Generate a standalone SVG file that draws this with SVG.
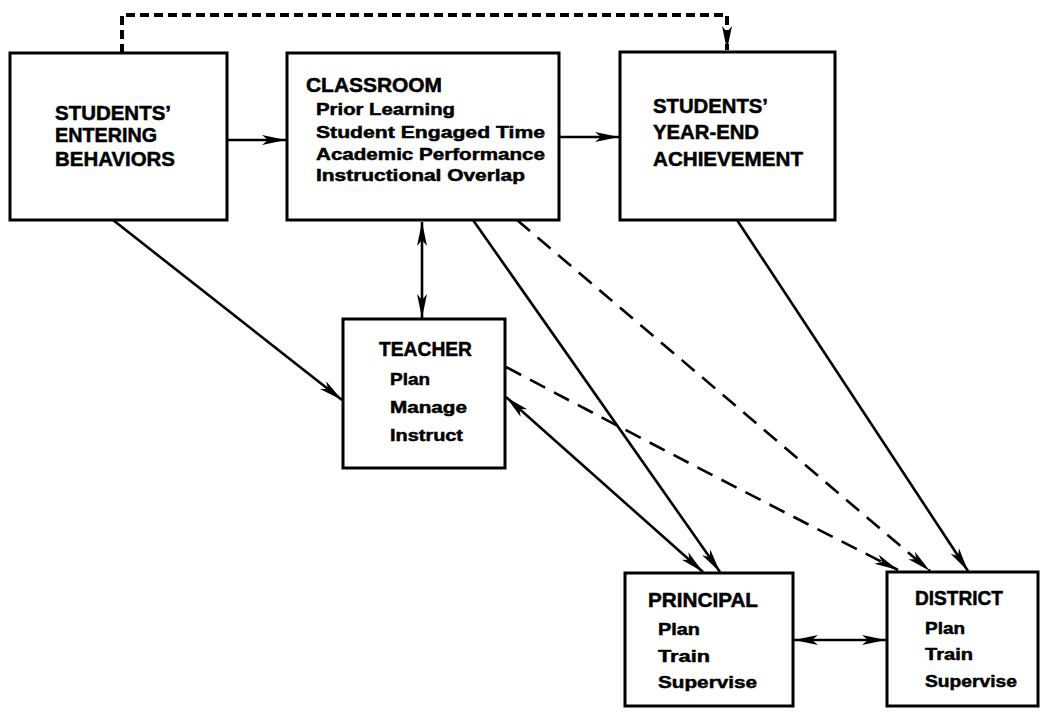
<svg xmlns="http://www.w3.org/2000/svg" width="1043" height="712" viewBox="0 0 1043 712">
<style>
.box{fill:#fff;stroke:#000;stroke-width:3}
.t{font-family:"Liberation Sans",Arial,sans-serif;font-weight:bold;fill:#000;stroke:#000;stroke-width:0.5}
.h{font-size:20px}
.s{font-size:17px}
.c{fill:none;stroke:#000;stroke-width:2.6}
.d{stroke-dasharray:17 10}
.dot{stroke-dasharray:9 5;stroke-width:4}
</style>
<defs>
<marker id="ah" viewBox="0 0 24 12" refX="24" refY="6" markerWidth="24" markerHeight="12" markerUnits="userSpaceOnUse" orient="auto-start-reverse">
<path d="M0,1 L24,6 L0,11 L6,6 z" fill="#000"/>
</marker>
</defs>
<rect width="1043" height="712" fill="#fff"/>
<g id="connectors">
<path class="c dot" d="M122,53 V15 H727 V50" marker-end="url(#ah)"/>
<path class="c" d="M227,140 H286" marker-end="url(#ah)"/>
<path class="c" d="M559,137 H619" marker-end="url(#ah)"/>
<path class="c" d="M113,220 L342,400" marker-end="url(#ah)"/>
<path class="c" d="M422,222 V318" marker-start="url(#ah)" marker-end="url(#ah)"/>
<path class="c" d="M473,220 L720,572" marker-end="url(#ah)"/>
<path class="c" d="M506,397 L703,572" marker-start="url(#ah)" marker-end="url(#ah)"/>
<path class="c d" d="M517,220 L930,571" marker-end="url(#ah)"/>
<path class="c d" d="M506,367 Q708,474 898,570" marker-end="url(#ah)"/>
<path class="c" d="M737,220 L968,571" marker-end="url(#ah)"/>
<path class="c" d="M794,640 H886" marker-start="url(#ah)" marker-end="url(#ah)"/>
</g>
<g id="entering">
<rect class="box" x="10" y="53" width="217" height="167"/>
<text class="t h" x="55" y="120" textLength="116" lengthAdjust="spacingAndGlyphs">STUDENTS’</text>
<text class="t h" x="55" y="142" textLength="102" lengthAdjust="spacingAndGlyphs">ENTERING</text>
<text class="t h" x="55" y="166" textLength="120" lengthAdjust="spacingAndGlyphs">BEHAVIORS</text>
</g>
<g id="classroom">
<rect class="box" x="287" y="53" width="272" height="167"/>
<text class="t h" x="306" y="92" textLength="136" lengthAdjust="spacingAndGlyphs">CLASSROOM</text>
<text class="t s" x="316" y="115" textLength="139" lengthAdjust="spacingAndGlyphs">Prior Learning</text>
<text class="t s" x="316" y="138" textLength="229" lengthAdjust="spacingAndGlyphs">Student Engaged Time</text>
<text class="t s" x="316" y="160" textLength="229" lengthAdjust="spacingAndGlyphs">Academic Performance</text>
<text class="t s" x="316" y="181" textLength="209" lengthAdjust="spacingAndGlyphs">Instructional Overlap</text>
</g>
<g id="yearend">
<rect class="box" x="620" y="52" width="215" height="168"/>
<text class="t h" x="653" y="113" textLength="115" lengthAdjust="spacingAndGlyphs">STUDENTS’</text>
<text class="t h" x="653" y="139" textLength="106" lengthAdjust="spacingAndGlyphs">YEAR-END</text>
<text class="t h" x="653" y="166" textLength="150" lengthAdjust="spacingAndGlyphs">ACHIEVEMENT</text>
</g>
<g id="teacher">
<rect class="box" x="343" y="319" width="162" height="149"/>
<text class="t h" x="379" y="356" textLength="93" lengthAdjust="spacingAndGlyphs">TEACHER</text>
<text class="t s" x="390" y="385" textLength="40" lengthAdjust="spacingAndGlyphs">Plan</text>
<text class="t s" x="390" y="413" textLength="77" lengthAdjust="spacingAndGlyphs">Manage</text>
<text class="t s" x="390" y="441" textLength="73" lengthAdjust="spacingAndGlyphs">Instruct</text>
</g>
<g id="principal">
<rect class="box" x="625" y="573" width="168" height="133"/>
<text class="t h" x="648" y="607" textLength="110" lengthAdjust="spacingAndGlyphs">PRINCIPAL</text>
<text class="t s" x="658" y="635" textLength="42" lengthAdjust="spacingAndGlyphs">Plan</text>
<text class="t s" x="658" y="662" textLength="52" lengthAdjust="spacingAndGlyphs">Train</text>
<text class="t s" x="658" y="688" textLength="99" lengthAdjust="spacingAndGlyphs">Supervise</text>
</g>
<g id="district">
<rect class="box" x="887" y="572" width="151" height="134"/>
<text class="t h" x="915" y="605" textLength="88" lengthAdjust="spacingAndGlyphs">DISTRICT</text>
<text class="t s" x="925" y="634" textLength="40" lengthAdjust="spacingAndGlyphs">Plan</text>
<text class="t s" x="925" y="660" textLength="48" lengthAdjust="spacingAndGlyphs">Train</text>
<text class="t s" x="925" y="687" textLength="92" lengthAdjust="spacingAndGlyphs">Supervise</text>
</g>
</svg>
